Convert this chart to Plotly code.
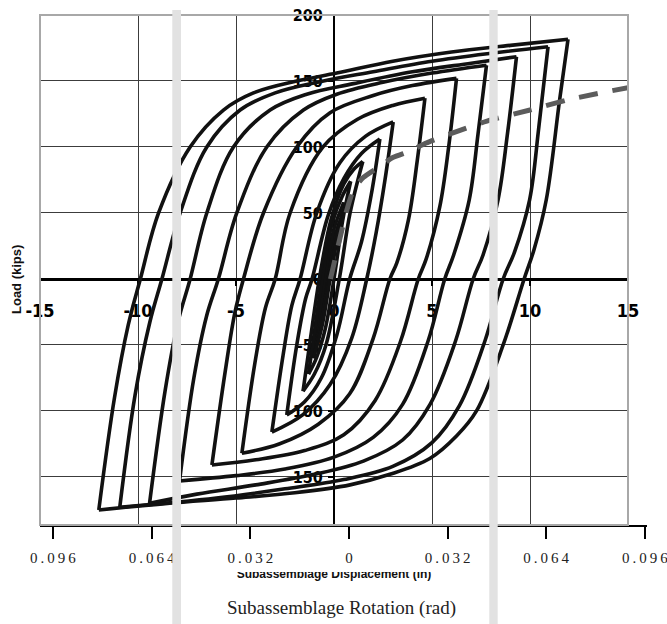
import plotly.graph_objects as go

# ---------------- data ----------------
# Hysteresis branches, one list per cycle level (displacement in, load kips).
# Loading branches run from the negative peak to the positive peak.
up_disp = [
    [-0.85, -0.55, -0.25, 0.05, 0.30],
    [-1.05, -0.75, -0.40, 0.00, 0.50],
    [-1.30, -0.95, -0.55, -0.10, 0.40, 0.85],
    [-1.58, -1.20, -0.75, -0.15, 0.50, 1.00, 1.47],
    [-2.41, -1.90, -1.45, -1.12, -0.30, 0.50, 1.40, 2.34],
    [-3.17, -2.60, -2.15, -1.73, -0.88, 0.30, 1.60, 3.02],
    [-4.70, -4.05, -3.50, -3.00, -2.24, -0.56, 1.20, 3.00, 4.64],
    [-6.23, -5.55, -5.05, -4.62, -3.60, -1.90, -0.20, 2.00, 4.00, 6.25],
    [-7.88, -7.15, -6.50, -5.90, -4.96, -3.43, -1.56, 0.14, 2.50, 5.00, 7.78],
    [-9.41, -8.62, -7.95, -7.34, -6.49, -5.13, -3.26, -1.39, 1.00, 4.00, 7.00, 9.31],
    [-10.93, -10.15, -9.40, -8.78, -7.85, -6.49, -4.79, -3.00, -0.71, 2.00, 5.00, 8.00, 10.92],
    [-12.00, -11.20, -10.50, -9.88, -8.95, -7.34, -5.64, -4.11, -1.90, 0.14, 3.00, 6.00, 9.00, 11.94],
]
up_load = [
    [-47, -18, 10, 32, 44],
    [-60, -28, 8, 38, 58],
    [-72, -35, 5, 42, 62, 74],
    [-85, -45, 0, 45, 72, 83, 89],
    [-103, -50, -15, 0, 48, 76, 95, 106],
    [-116, -58, -20, 0, 50, 88, 108, 119],
    [-132, -65, -22, 0, 50, 100, 121, 131.5, 137],
    [-141, -70, -25, 0, 50, 100, 126, 139, 146.5, 152],
    [-153, -75, -28, 0, 50, 100, 128, 140, 149, 156, 162],
    [-170, -85, -32, 0, 50, 100, 128, 140, 148, 157, 163.5, 168.4],
    [-173, -88, -33, 0, 50, 100, 128, 141, 149.5, 157, 165, 171, 176],
    [-175, -90, -35, 0, 50, 100, 128, 141, 150, 156, 165, 172, 177, 181.6],
]
# Unloading branches run from the positive peak back to the negative peak.
down_disp = [
    [0.30, 0.00, -0.30, -0.60, -0.85],
    [0.50, 0.15, -0.20, -0.60, -1.05],
    [0.85, 0.45, 0.05, -0.45, -0.90, -1.30],
    [1.47, 0.82, 0.27, -0.41, -1.00, -1.58],
    [2.34, 1.95, 1.40, 0.80, 0.15, -0.65, -1.50, -2.41],
    [3.02, 2.60, 2.15, 1.67, 0.90, -0.20, -1.60, -3.17],
    [4.64, 4.25, 3.80, 3.20, 2.85, 2.00, 0.80, -0.80, -2.80, -4.70],
    [6.25, 5.85, 5.40, 4.70, 4.30, 3.40, 2.10, 0.50, -1.50, -4.00, -6.23],
    [7.78, 7.35, 6.90, 6.10, 5.65, 4.80, 3.50, 2.00, 0.00, -2.50, -5.00, -7.88],
    [9.31, 8.85, 8.37, 7.60, 7.10, 6.20, 4.90, 3.50, 1.50, -1.00, -4.00, -7.00, -9.41],
    [10.92, 10.45, 9.98, 9.20, 8.63, 7.70, 6.40, 5.00, 3.00, 0.50, -2.50, -6.00, -10.93],
    [11.94, 11.51, 10.83, 10.20, 9.70, 8.63, 7.27, 6.25, 4.89, 2.85, 0.82, -2.00, -5.00, -8.50, -12.00],
]
down_load = [
    [44, 20, -5, -28, -47],
    [58, 30, 0, -35, -60],
    [74, 45, 5, -38, -60, -72],
    [89, 50, 0, -50, -72, -85],
    [106, 68, 28, 0, -42, -75, -93, -103],
    [119, 75, 35, 0, -45, -80, -103, -116],
    [137, 90, 45, 12, 0, -45, -87, -110, -125, -132],
    [152, 100, 55, 15, 0, -47, -92, -118, -130, -137, -141],
    [162, 110, 60, 18, 0, -47, -95, -120, -135, -144, -149, -153],
    [168.4, 110, 60, 18, 0, -47, -95, -122, -138, -148, -156, -163, -170],
    [176, 115, 60, 20, 0, -47, -96, -124, -142, -152, -159, -166, -173],
    [181.6, 135.6, 60, 22, 0, -50, -100, -119, -136, -148, -156, -162, -166, -170, -175],
]

# Monotonic backbone (dashed)
backbone_disp = [-0.18, 0.65, 1.00, 1.50, 2.30, 3.00, 3.90, 4.70, 6.50, 8.00, 10.00, 12.00, 15.00]
backbone_load = [0, 52, 68, 77, 85, 92, 97, 103, 113, 120.5, 128, 136, 145]

# Axis ticks
disp_ticks = [-15, -10, -5, 0, 5, 10, 15]
load_ticks = [-150, -100, -50, 0, 50, 100, 150, 200]
rot_ticks = [-0.096, -0.064, -0.032, 0, 0.032, 0.064, 0.096]

# ---------------- layout geometry ----------------
W, H = 667, 624
ML, MR, MT, MB = 40, 20, 15, 24
PW, PH = W - ML - MR, H - MT - MB          # paper size in px
X_RANGE = [-15, 15]
Y_RANGE = [-186.4, 200]
ROT_RANGE = [-0.1002, 0.0967]
X_DOM = [0, 588 / PW]
Y_DOM = [(PH + MT - 525) / PH, 1]


def paper_x(px):
    return (px - ML) / PW


def paper_y(py):
    return (PH + MT - py) / PH


y_zero = Y_DOM[0] + (0 - Y_RANGE[0]) / (Y_RANGE[1] - Y_RANGE[0]) * (Y_DOM[1] - Y_DOM[0])
x_zero = X_DOM[0] + (0 - X_RANGE[0]) / (X_RANGE[1] - X_RANGE[0]) * (X_DOM[1] - X_DOM[0])

NARROW = "Noto Sans ExtraCondensed, Noto Sans Condensed, DejaVu Sans Condensed, Liberation Sans, sans-serif"
SANS = "Liberation Sans, Arial, sans-serif"
SERIF = "Liberation Serif, Times New Roman, serif"


def hyphen(v):
    return str(v).replace("\u2212", "-")


def spaced(v):
    s = "0" if v == 0 else f"{abs(v):.3f}"
    return "\u2009".join(s)


fig = go.Figure()

LOOP = dict(color="#111111", width=3.6, shape="spline", smoothing=1.0)
for xs, ys in zip(up_disp, up_load):
    fig.add_trace(go.Scatter(x=xs, y=ys, mode="lines", line=LOOP, hoverinfo="skip"))
for xs, ys in zip(down_disp, down_load):
    fig.add_trace(go.Scatter(x=xs, y=ys, mode="lines", line=LOOP, hoverinfo="skip"))

fig.add_trace(go.Scatter(
    x=backbone_disp, y=backbone_load, mode="lines",
    line=dict(color="#5c5c5c", width=5, dash="19px,15px", shape="spline", smoothing=0.5),
    hoverinfo="skip"))

# Rotation scale: invisible carrier so the secondary axis gets its own subplot
fig.add_trace(go.Scatter(
    x=rot_ticks, y=[0.5] * len(rot_ticks), mode="markers",
    marker=dict(size=1, opacity=0), xaxis="x2", yaxis="y4", hoverinfo="skip"))

# Clipped displacement caption (sits under the rotation tick labels)
fig.add_trace(go.Scatter(
    x=[0], y=[0], mode="text", text=["<b>Subassemblage Displacement (in)</b>"],
    textposition="middle center", textfont=dict(family=SANS, size=12, color="#111"),
    xaxis="x3", yaxis="y3", cliponaxis=True, hoverinfo="skip"))

fig.update_layout(
    width=W, height=H,
    margin=dict(l=ML, r=MR, t=MT, b=MB, autoexpand=False),
    paper_bgcolor="white", plot_bgcolor="rgba(0,0,0,0)",
    showlegend=False,
    xaxis=dict(
        domain=X_DOM, range=X_RANGE, anchor="free", position=y_zero, automargin=False,
        tickvals=disp_ticks, ticktext=[hyphen(v) for v in disp_ticks],
        ticks="outside", ticklen=5, tickwidth=1.5, tickcolor="black",
        showline=True, linecolor="black", linewidth=2.5,
        showgrid=True, gridcolor="#3c3c3c", gridwidth=1, zeroline=False,
        tickfont=dict(family=NARROW, size=18, color="black", weight="bold"),
        ticklabelstandoff=10, layer="below traces",
    ),
    yaxis=dict(
        domain=Y_DOM, range=Y_RANGE, anchor="free", position=x_zero, automargin=False,
        tickvals=load_ticks, ticktext=[hyphen(v) for v in load_ticks],
        ticks="outside", ticklen=5, tickwidth=1.5, tickcolor="black",
        showline=True, linecolor="black", linewidth=2,
        showgrid=True, gridcolor="#3c3c3c", gridwidth=1, zeroline=False,
        tickfont=dict(family=NARROW, size=16, color="black", weight="bold"),
        ticklabelstandoff=2, layer="below traces",
    ),
    xaxis2=dict(
        domain=[0, 1], range=ROT_RANGE, anchor="y4", side="bottom", automargin=False,
        tickvals=rot_ticks, ticktext=[spaced(v) for v in rot_ticks],
        ticks="outside", ticklen=12, tickwidth=2, tickcolor="black",
        showline=True, linecolor="black", linewidth=1.5,
        showgrid=False, zeroline=False, ticklabeloverflow="allow",
        tickfont=dict(family=SERIF, size=15, color="#222"),
        ticklabelstandoff=6,
    ),
    yaxis4=dict(domain=[Y_DOM[0], Y_DOM[0] + 0.01], anchor="x2", visible=False,
                range=[0, 1], automargin=False),
    xaxis3=dict(domain=X_DOM, range=X_RANGE, anchor="y3", visible=False, automargin=False),
    yaxis3=dict(domain=[0, paper_y(572)], range=[-1, 0.1], anchor="x3", visible=False,
                automargin=False),
    shapes=[
        dict(type="rect", xref="x domain", yref="y domain", x0=0, x1=1, y0=0, y1=1,
             line=dict(color="#a8a8a8", width=2), layer="above"),
        dict(type="rect", xref="paper", yref="paper",
             x0=paper_x(172.3), x1=paper_x(181), y0=paper_y(624), y1=paper_y(10),
             fillcolor="#e2e2e2", line=dict(width=0), layer="above"),
        dict(type="rect", xref="paper", yref="paper",
             x0=paper_x(489.3), x1=paper_x(497.7), y0=paper_y(624), y1=paper_y(10),
             fillcolor="#e2e2e2", line=dict(width=0), layer="above"),
    ],
    annotations=[
        dict(text="Load (kips)", textangle=-90, xref="paper", yref="paper",
             x=paper_x(17), y=paper_y(280), showarrow=False,
             font=dict(family=SANS, size=13, color="#111", weight="bold"),
             xanchor="center", yanchor="middle"),
        dict(text="Subassemblage Rotation (rad)", xref="paper", yref="paper",
             x=paper_x(341.5), y=paper_y(608), showarrow=False,
             font=dict(family=SERIF, size=19, color="#222"),
             xanchor="center", yanchor="middle"),
    ],
)

fig.write_html("out.html")
